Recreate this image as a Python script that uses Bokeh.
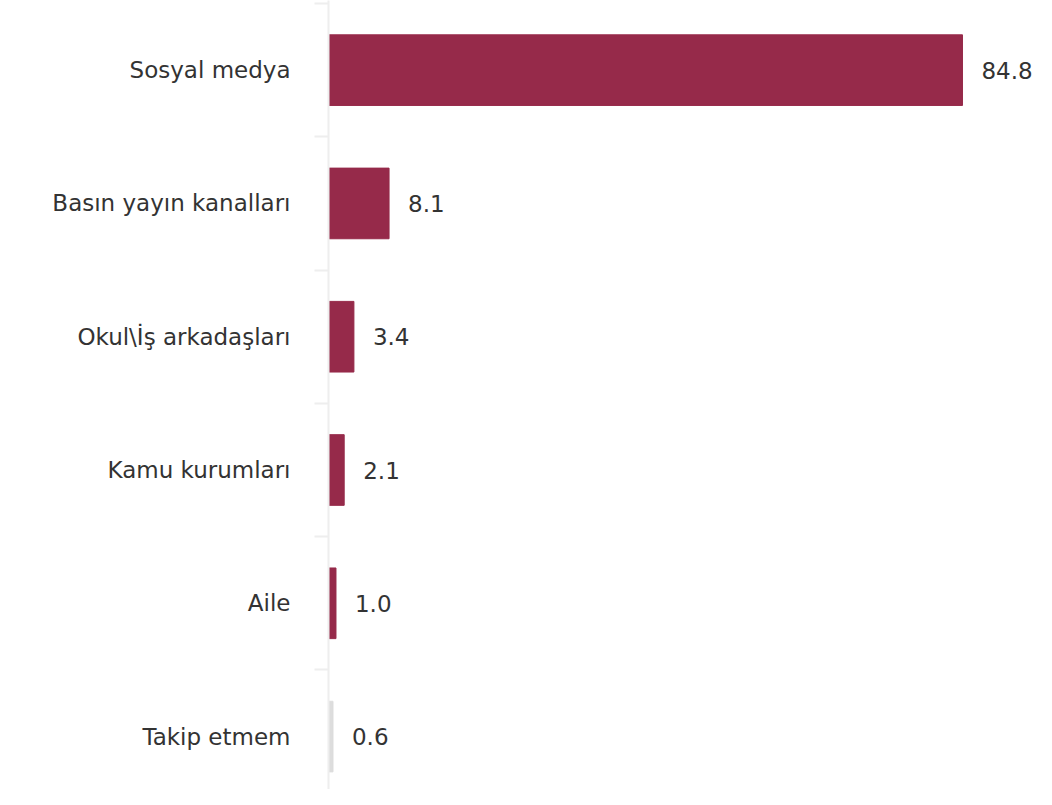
from bokeh.plotting import figure
from bokeh.models import ColumnDataSource, Range1d, FixedTicker
from bokeh.core.properties import value
from bokeh.embed import file_html
from bokeh.resources import INLINE

categories = ["Sosyal medya", "Basın yayın kanalları", "Okul\\İş arkadaşları",
              "Kamu kurumları", "Aile", "Takip etmem"]
values = [84.8, 8.1, 3.4, 2.1, 1.0, 0.6]
colors = ["#962a4a", "#962a4a", "#962a4a", "#962a4a", "#962a4a", "#dddddd"]

FONT = "DejaVu Sans"
positions = list(range(len(categories)))
source = ColumnDataSource(dict(
    y=positions, v=values, c=colors,
    lab=[f"{x:.1f}" for x in values],
))

p = figure(width=1036, height=789, output_backend="svg", toolbar_location=None,
           x_range=Range1d(0, 94.7), y_range=Range1d(5.397, -0.5225),
           min_border_left=328, min_border_right=0, min_border_top=0, min_border_bottom=0)
p.outline_line_color = None
p.xgrid.visible = False
p.ygrid.visible = False
p.xaxis.visible = False

p.hbar(y="y", right="v", left=0, height=0.53, color="c", source=source)
p.text(x="v", y="y", text="lab", source=source, x_offset=19,
       text_baseline="middle", text_align="left", text_color="#333333",
       text_font=value(FONT), text_font_size="23px")

ax = p.yaxis[0]
ax.ticker = FixedTicker(ticks=positions,
                        minor_ticks=[i - 0.5 for i in range(len(categories) + 1)])
ax.major_label_overrides = {i: c for i, c in enumerate(categories)}
ax.axis_line_color = "#eeeeee"
ax.axis_line_width = 2
ax.major_tick_line_color = None
ax.major_tick_out = 14
ax.major_tick_in = 0
ax.minor_tick_line_color = "#eeeeee"
ax.minor_tick_line_width = 2
ax.minor_tick_out = 14
ax.minor_tick_in = 0
ax.major_label_standoff = 24
ax.major_label_text_font = FONT
ax.major_label_text_font_size = "23px"
ax.major_label_text_color = "#333333"
ax.major_label_text_font_style = "normal"

open("out.html", "w").write(file_html(p, INLINE))
